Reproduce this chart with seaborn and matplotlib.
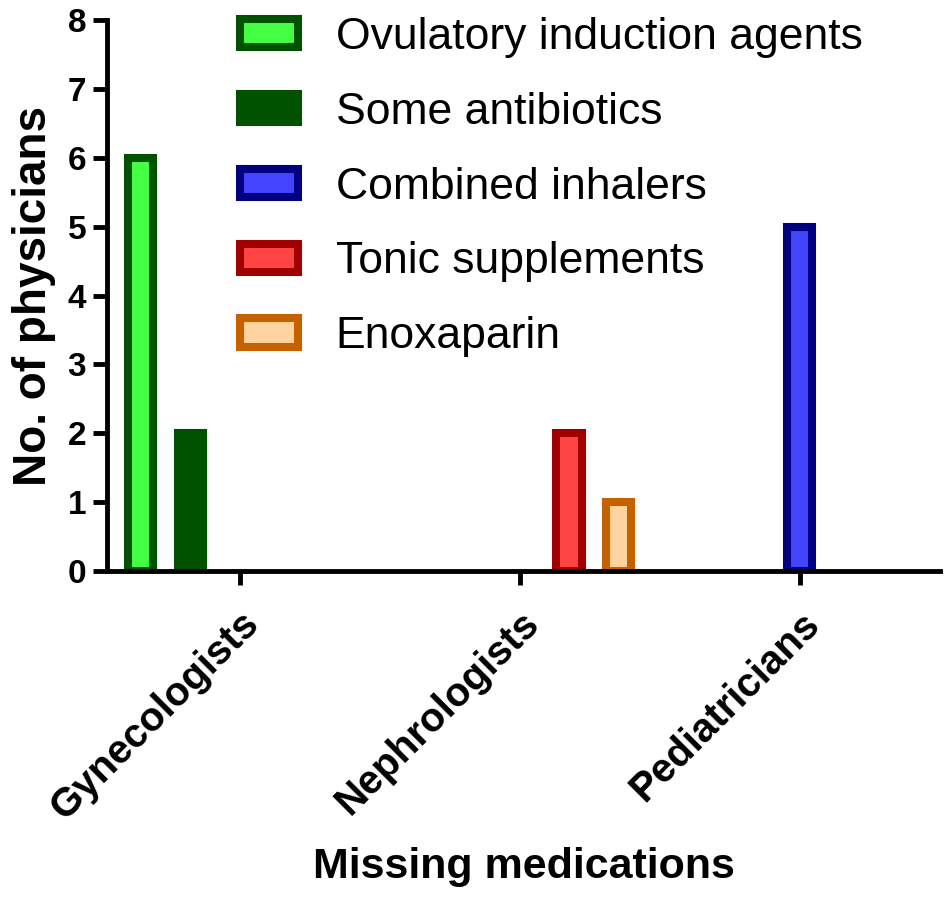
import matplotlib
matplotlib.use("Agg")
import matplotlib.pyplot as plt
from matplotlib.patches import Patch
import seaborn as sns
import pandas as pd

categories = ["Gynecologists", "Nephrologists", "Pediatricians"]
series = ["Ovulatory induction agents", "Some antibiotics", "Combined inhalers",
          "Tonic supplements", "Enoxaparin"]
ovulatory = [6, 0, 0]
antibiotics = [2, 0, 0]
inhalers = [0, 0, 5]
tonic = [0, 2, 0]
enoxaparin = [0, 1, 0]
fill_colors = ["#44FF44", "#005200", "#4444FF", "#FF4444", "#FFD49E"]
edge_colors = ["#005200", "#005200", "#000080", "#A00000", "#C46200"]

values = [ovulatory, antibiotics, inhalers, tonic, enoxaparin]
rows = []
for s, vals in zip(series, values):
    for c, v in zip(categories, vals):
        rows.append({"cat": c, "series": s, "value": v})
df = pd.DataFrame(rows)

sns.set_theme(style="ticks", rc={"text.color": "black", "axes.labelcolor": "black",
                                 "xtick.color": "black", "ytick.color": "black"})
plt.rcParams["font.family"] = ["Liberation Sans", "DejaVu Sans"]

fig = plt.figure(figsize=(9.45, 9.08), dpi=100)
ax = fig.add_axes([107 / 945, 1 - 571 / 908, (940 - 107) / 945, (571 - 20) / 908])

sns.barplot(data=df, x="cat", y="value", hue="series", order=categories,
            hue_order=series, palette=fill_colors, width=0.88, gap=0.49,
            saturation=1, ax=ax, legend=False, errorbar=None)

for cont, ec in zip(ax.containers, edge_colors):
    for p in cont.patches:
        if p.get_height() == 0:
            p.set_visible(False)
        else:
            p.set_edgecolor(ec)
            p.set_linewidth(5.8)

ax.set_xlim(-0.473, 2.5)
ax.set_ylim(0, 8)
ax.set_yticks(range(0, 9))
sns.despine(ax=ax)
for sp in ["left", "bottom"]:
    ax.spines[sp].set_linewidth(3.5)
    ax.spines[sp].set_color("black")
ax.tick_params(axis="both", width=3.5, length=10, color="black")
ax.tick_params(axis="y", labelsize=24, pad=5)
ax.tick_params(axis="x", labelsize=29, pad=14)
for t in ax.get_yticklabels():
    t.set_fontweight("bold")
for t in ax.get_xticklabels():
    t.set_fontweight("bold")
    t.set_rotation(45)
    t.set_ha("right")
    t.set_rotation_mode("anchor")

ax.set_xlabel("Missing medications", fontsize=31, fontweight="bold", labelpad=14)
ax.set_ylabel("No. of physicians", fontsize=33, fontweight="bold", labelpad=8)

handles = [Patch(facecolor=f, edgecolor=e, linewidth=5.8) for f, e in zip(fill_colors, edge_colors)]
ax.legend(handles, series, loc="upper left", bbox_to_anchor=(240 / 945, 1 - 17 / 908),
          bbox_transform=fig.transFigure, frameon=False, fontsize=32,
          handlelength=1.3, handleheight=0.6, handletextpad=0.85, labelspacing=0.76,
          borderaxespad=0.0, borderpad=0.0)

fig.savefig("out.png", dpi=100)
